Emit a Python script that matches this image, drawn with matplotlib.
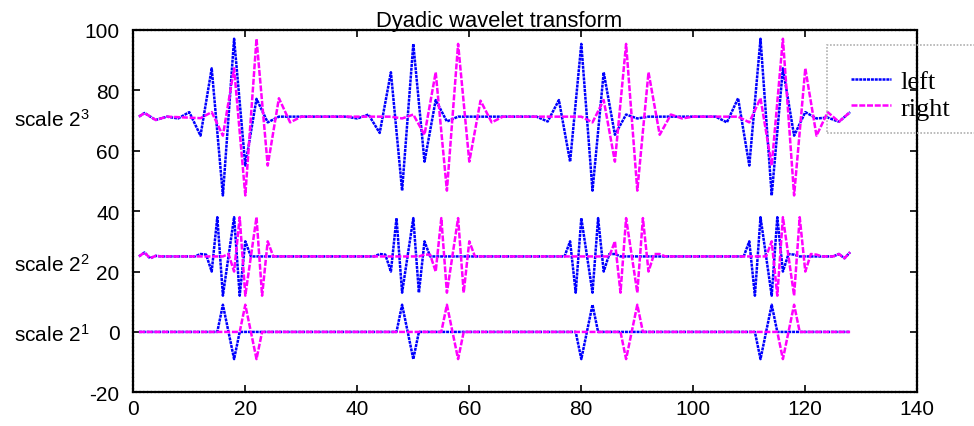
import matplotlib
matplotlib.use("Agg")
import matplotlib.pyplot as plt
from matplotlib.patches import Rectangle
from matplotlib.transforms import blended_transform_factory

# ---------------- data ----------------
# scale 2^1 (baseline 0)
left_s1_x = [1, 15, 16, 18, 19, 47, 48, 50, 51, 79, 80, 82, 83, 111, 112, 114, 115, 128]
left_s1_y = [0, 0, 9, -9, 0, 0, 9, -9, 0, 0, -9, 9, 0, 0, -9, 9, 0, 0]
right_s1_x = [1, 19, 20, 22, 23, 55, 56, 58, 59, 87, 88, 90, 91, 115, 116, 118, 119, 128]
right_s1_y = [0, 0, 9, -9, 0, 0, 9, -9, 0, 0, -9, 9, 0, 0, -9, 9, 0, 0]

# scale 2^2 (baseline 25)
left_s2_x = [1, 2, 3, 4, 5, 11, 12, 13, 14, 15, 16, 18, 19, 20, 21,
             43, 44, 45, 46, 47, 48, 50, 51, 52, 53,
             77, 78, 79, 80, 82, 83, 84, 85, 86, 87,
             109, 110, 111, 112, 114, 115, 116, 117, 118, 119,
             125, 126, 127, 128]
left_s2_y = [25, 26.3, 24.4, 25.2, 25, 25, 25.8, 25.6, 20, 38, 12, 38, 12, 30, 25,
             25, 25.8, 25.6, 20, 37.7, 13, 37.7, 13, 30, 25,
             25, 30, 13, 37.7, 13, 37.7, 20, 25.8, 25.8, 25,
             25, 30, 12, 38, 12, 38, 20, 25.8, 25.6, 25,
             25, 25.8, 24.4, 26.4]
right_s2_x = [1, 2, 3, 4, 5, 16, 17, 18, 19, 20, 22, 23, 24, 25,
              51, 52, 53, 54, 55, 56, 58, 59, 60, 61,
              85, 86, 87, 88, 90, 91, 92, 93, 94, 95,
              113, 114, 115, 116, 118, 119, 120, 121, 122, 123,
              125, 126, 127, 128]
right_s2_y = [25, 26.3, 24.4, 25.2, 25, 25, 25.8, 20, 38, 12, 38, 12, 30, 25,
              25, 25.6, 25.6, 20, 37.7, 13, 37.7, 13, 30, 25,
              25, 30, 13, 37.7, 13, 37.7, 20, 25.8, 25.8, 25,
              25, 30, 12, 38, 12, 38, 20, 25.8, 25.6, 25,
              25, 25.8, 24.4, 26.4]

# scale 2^3 (baseline ~71.3)
left_s3_x = [1, 2, 4, 6, 8, 10, 12, 14, 16, 18, 20, 22, 24, 26,
             38, 40, 42, 44, 46, 48, 50, 52, 54, 56, 58,
             72, 74, 76, 78, 80, 82, 84, 86, 88, 90, 92,
             104, 106, 108, 110, 112, 114, 116, 118, 120, 122, 124, 126, 128]
left_s3_y = [71.3, 72.5, 70.2, 71.3, 70.7, 72.8, 65.0, 87.3, 45.2, 97.1, 55.1, 77.2, 69.4, 71.3,
             71.3, 70.7, 72.0, 65.9, 86.0, 46.8, 95.4, 56.4, 76.8, 69.7, 71.3,
             71.3, 69.7, 76.8, 56.4, 95.4, 46.8, 86.0, 65.3, 72.0, 70.7, 71.3,
             71.3, 69.4, 77.4, 55.1, 97.1, 45.2, 87.3, 65.0, 72.8, 70.7, 71.0, 69.6, 72.8]
right_s3_x = [1, 2, 4, 6, 12, 14, 16, 18, 20, 22, 24, 26, 28, 30,
              46, 48, 50, 52, 54, 56, 58, 60, 62, 64, 66,
              80, 82, 84, 86, 88, 90, 92, 94, 96, 98, 100,
              108, 110, 112, 114, 116, 118, 120, 122, 124, 126, 128]
right_s3_y = [71.3, 72.5, 70.2, 71.3, 70.8, 72.8, 65.0, 87.3, 45.2, 97.1, 55.1, 77.4, 69.4, 71.3,
              71.3, 70.7, 72.0, 65.3, 86.0, 46.8, 95.4, 56.4, 76.6, 69.4, 71.3,
              71.3, 69.4, 76.8, 56.4, 95.4, 46.8, 86.0, 65.3, 72.0, 70.7, 71.3,
              71.3, 69.4, 77.4, 55.1, 97.1, 45.2, 87.3, 65.0, 72.8, 69.6, 72.8]

scale_labels = ["scale 2$^3$", "scale 2$^2$", "scale 2$^1$"]
scale_label_y = [70.5, 22.5, -0.5]
x_ticks = [0, 20, 40, 60, 80, 100, 120, 140]
y_ticks = [-20, 0, 20, 40, 60, 80, 100]
series_names = ["left", "right"]
title_text = "Dyadic wavelet transform"

# ---------------- style ----------------
plt.rcParams["font.family"] = ["Liberation Sans", "DejaVu Sans"]
plt.rcParams["mathtext.fontset"] = "custom"
plt.rcParams["mathtext.rm"] = "Liberation Sans"
plt.rcParams["mathtext.it"] = "Liberation Sans"
plt.rcParams["axes.unicode_minus"] = False

W, H = 974, 427
fig = plt.figure(figsize=(W / 100, H / 100), dpi=100)
ax = fig.add_axes([133.3 / W, 1 - 393.3 / H, (917.3 - 133.3) / W, (393.3 - 31) / H])

blue = "#0000ff"
mag = "#ff00ff"
ls_left = (0, (1.2, 0.35))
ls_right = (0, (2.4, 0.7))
lw = 1.8

l1, = ax.plot(left_s3_x, left_s3_y, color=blue, ls=ls_left, lw=lw)
r1, = ax.plot(right_s3_x, right_s3_y, color=mag, ls=ls_right, lw=lw)
ax.plot(left_s2_x, left_s2_y, color=blue, ls=ls_left, lw=lw)
ax.plot(right_s2_x, right_s2_y, color=mag, ls=ls_right, lw=lw)
ax.plot(left_s1_x, left_s1_y, color=blue, ls=ls_left, lw=lw)
ax.plot(right_s1_x, right_s1_y, color=mag, ls=ls_right, lw=lw)

ax.set_xlim(0, 140)
ax.set_ylim(-20, 100)
ax.set_xticks(x_ticks)
ax.set_yticks(y_ticks)
ax.tick_params(direction="in", length=5, width=1.2, top=True, right=True,
               labelsize=15)
ax.tick_params(axis="y", pad=10)
ax.tick_params(axis="x", pad=5)
for sp in ax.spines.values():
    sp.set_linestyle((0, (1.2, 0.5)))
    sp.set_linewidth(1.6)

fig.text(499 / W, 1 - 27 / H, title_text, ha="center", va="baseline", fontsize=15.8)

trans = blended_transform_factory(fig.transFigure, ax.transData)
for lab, yy in zip(scale_labels, scale_label_y):
    ax.text(14 / W, yy, lab, transform=trans, ha="left", va="center",
            fontsize=15, clip_on=False)

leg = fig.legend([l1, r1], series_names, loc="upper left",
                 bbox_to_anchor=(851 / W, 1 - 71 / H), bbox_transform=fig.transFigure,
                 frameon=False, borderpad=0, borderaxespad=0,
                 handlelength=1.5, handletextpad=0.38, labelspacing=0.1,
                 prop={"family": "Liberation Serif", "size": 19})
fig.add_artist(Rectangle((826.7 / W, 1 - 134 / H), (1000 - 826.7) / W, (134 - 45.7) / H,
                         transform=fig.transFigure, fill=False, edgecolor="#b0b0b0",
                         linestyle=(0, (1, 1)), linewidth=1.2, clip_on=False))

fig.savefig("out.png", dpi=100)
